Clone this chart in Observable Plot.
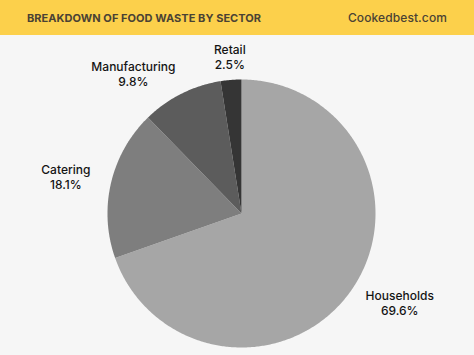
<!DOCTYPE html>
<html>
<head>
<meta charset="utf-8">
<script src="https://cdn.jsdelivr.net/npm/d3@7"></script>
<script src="https://cdn.jsdelivr.net/npm/@observablehq/plot@0.6"></script>
<style>
  html, body { margin: 0; padding: 0; background: #f6f6f6; width: 474px; height: 355px; overflow: hidden; }
  #header { height: 35px; background: #fcd04b; display: flex; align-items: center; justify-content: space-between; padding: 0 27px; box-sizing: border-box; font-family: Inter, "Open Sans", sans-serif; color: #4a4234; }
  #title { font-weight: 700; font-size: 11px; letter-spacing: 0.05px; }
  #site { font-size: 12px; font-weight: 500; letter-spacing: 0.1px; }
  #chart svg { display: block; }
</style>
</head>
<body>
<div id="header"><span id="title">BREAKDOWN OF FOOD WASTE BY SECTOR</span><span id="site">Cookedbest.com</span></div>
<div id="chart"></div>
<script>
const sectors = ["Households", "Catering", "Manufacturing", "Retail"];
const shares = [69.6, 18.1, 9.8, 2.5];
const colors = ["#a6a6a6", "#7e7e7e", "#5c5c5c", "#353535"];

const arcs = d3.pie().sort(null).value(d => d)(shares);

// slice outlines in unit-radius coordinates (y up)
const outline = [];
arcs.forEach((a, i) => {
  outline.push({sector: sectors[i], x: 0, y: 0});
  const n = Math.max(2, Math.ceil((a.endAngle - a.startAngle) / 0.01));
  for (let k = 0; k <= n; k++) {
    const t = a.startAngle + (a.endAngle - a.startAngle) * k / n;
    outline.push({sector: sectors[i], x: Math.sin(t), y: Math.cos(t)});
  }
});

const nudge = {Households: [16, -11], Catering: [-6, 3], Manufacturing: [-30, 16], Retail: [2, 17]};
const labels = arcs.map((a, i) => {
  const m = (a.startAngle + a.endAngle) / 2;
  return {sector: sectors[i], text: `${sectors[i]}\n${shares[i]}%`, x: 1.3 * Math.sin(m), y: 1.3 * Math.cos(m)};
});

const R = 134, W = 474, H = 320, cx = 241, cy = 178;
const chart = Plot.plot({
  width: W, height: H, margin: 0,
  x: {domain: [-cx / R, (W - cx) / R], axis: null},
  y: {domain: [-(H - cy) / R, cy / R], axis: null},
  color: {domain: sectors, range: colors},
  style: {background: "transparent", fontFamily: "Inter, 'Open Sans', sans-serif"},
  marks: [
    Plot.line(outline, {x: "x", y: "y", z: "sector", fill: "sector", stroke: "none", curve: "linear"}),
    ...labels.map(l => Plot.text([l], {x: "x", y: "y", text: "text", dx: nudge[l.sector][0], dy: nudge[l.sector][1], fontSize: 12, lineHeight: 1.22, fill: "#141414", fontWeight: 500}))
  ]
});
document.getElementById("chart").appendChild(chart);
</script>
</body>
</html>
